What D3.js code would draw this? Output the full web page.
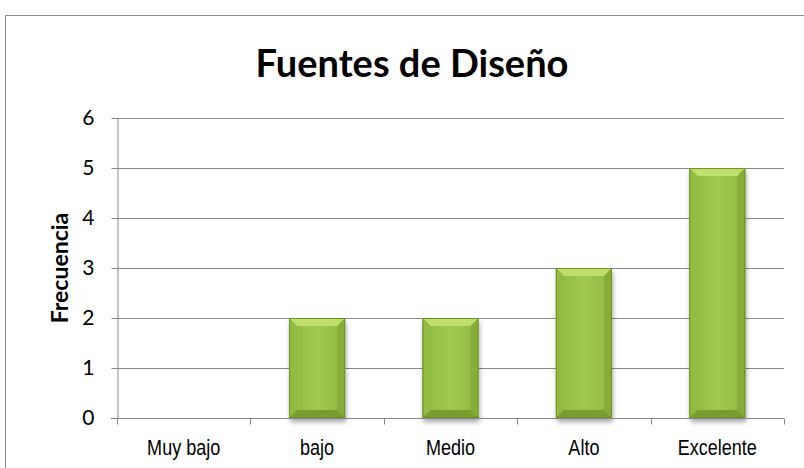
<!DOCTYPE html>
<html><head><meta charset="utf-8">
<script src="https://cdn.jsdelivr.net/npm/d3@7"></script>
<style>body{margin:0;background:#fff}svg{display:block}</style>
</head><body>
<script>
const categories = ["Muy bajo", "bajo", "Medio", "Alto", "Excelente"];
const values = [0, 2, 2, 3, 5];
const yTicks = [0, 1, 2, 3, 4, 5, 6];
const title = "Fuentes de Diseño";
const yTitle = "Frecuencia";

(function() {
const W = 804, H = 468;
const svg = d3.select("body").append("svg").attr("width", W).attr("height", H);
const defs = svg.append("defs");

svg.append("rect").attr("x", 5.5).attr("y", 15.5).attr("width", W).attr("height", H)
  .attr("fill", "#fff").attr("stroke", "#8c8c8c").attr("stroke-width", 1);

const pL = 117, pR = 784, pT = 118, pB = 418;
const x = d3.scaleBand().domain(categories).range([pL, pR]).paddingInner(0.58).paddingOuter(0.29);
const xb = d3.scaleBand().domain(categories).range([pL, pR]);
const y = d3.scaleLinear().domain([0, 6]).range([pB, pT]);

svg.append("g").selectAll("line").data(yTicks.filter(d => d > 0)).join("line")
  .attr("x1", pL).attr("x2", pR).attr("y1", d => Math.round(y(d)) + 0.5).attr("y2", d => Math.round(y(d)) + 0.5)
  .attr("stroke", "#878787").attr("stroke-width", 1);

const g1 = defs.append("linearGradient").attr("id", "body").attr("x1", 0).attr("x2", 1).attr("y1", 0).attr("y2", 0);
g1.append("stop").attr("offset", "0").attr("stop-color", "#8fb83f");
g1.append("stop").attr("offset", "0.5").attr("stop-color", "#a0cb50");
g1.append("stop").attr("offset", "1").attr("stop-color", "#8fb83f");
const blur = defs.append("filter").attr("id", "sh").attr("x", "-20%").attr("y", "-20%").attr("width", "140%").attr("height", "140%");
blur.append("feGaussianBlur").attr("stdDeviation", 2.5);

const bars = svg.append("g").selectAll("g").data(categories.map((c, i) => ({c, v: values[i]})).filter(d => d.v > 0)).join("g");
const bev = 8;
bars.each(function(d) {
  const g = d3.select(this);
  const x0 = x(d.c), w = x.bandwidth(), y0 = y(d.v), y1 = y(0), h = y1 - y0;
  g.append("rect").attr("x", x0 + 1).attr("y", y0 + 4).attr("width", w).attr("height", h)
    .attr("fill", "#000").attr("opacity", 0.35).attr("filter", "url(#sh)");
  g.append("rect").attr("x", x0).attr("y", y0).attr("width", w).attr("height", h).attr("fill", "url(#body)");
  const pts = (a) => a.map(p => p.join(",")).join(" ");
  g.append("polygon").attr("points", pts([[x0, y0], [x0 + w, y0], [x0 + w - bev, y0 + bev], [x0 + bev, y0 + bev]])).attr("fill", "#bedf6c");
  g.append("polygon").attr("points", pts([[x0, y0], [x0 + bev, y0 + bev], [x0 + bev, y1 - bev], [x0, y1]])).attr("fill", "#92bb42");
  g.append("polygon").attr("points", pts([[x0 + w, y0], [x0 + w - bev, y0 + bev], [x0 + w - bev, y1 - bev], [x0 + w, y1]])).attr("fill", "#86ad38");
  g.append("polygon").attr("points", pts([[x0, y1], [x0 + bev, y1 - bev], [x0 + w - bev, y1 - bev], [x0 + w, y1]])).attr("fill", "#789e2f");
  g.append("rect").attr("x", x0 + 0.5).attr("y", y0 + 0.5).attr("width", w - 1).attr("height", h - 1)
    .attr("fill", "none").attr("stroke", "#6f9229").attr("stroke-width", 1);
});

const yAxis = svg.append("g").attr("transform", `translate(${pL + 0.5},0)`)
  .call(d3.axisLeft(y).tickValues(yTicks).tickFormat(d3.format("d")).tickSize(6).tickSizeOuter(0).tickPadding(17));
yAxis.select(".domain").attr("stroke", "#878787");
yAxis.selectAll(".tick line").attr("stroke", "#878787");
yAxis.selectAll("text").attr("font-family", "Lato, 'Open Sans', sans-serif").attr("font-size", 21).attr("fill", "#000");

const xAxis = svg.append("g").attr("transform", `translate(0,${pB + 0.5})`);
xAxis.append("line").attr("x1", pL - 6).attr("x2", pR).attr("stroke", "#878787");
xAxis.selectAll("line.t").data(categories.concat(["_end"])).join("line").attr("class", "t")
  .attr("x1", (d, i) => Math.round(i < categories.length ? xb(d) : pR) + 0.5)
  .attr("x2", (d, i) => Math.round(i < categories.length ? xb(d) : pR) + 0.5)
  .attr("y1", 0).attr("y2", 6).attr("stroke", "#878787");
xAxis.selectAll("text").data(categories).join("text")
  .attr("transform", d => `translate(${xb(d) + xb.bandwidth() / 2},36.5) scale(0.82,1)`)
  .attr("text-anchor", "middle").attr("font-family", "'Liberation Sans', Arial, sans-serif")
  .attr("font-size", 22).attr("fill", "#000").text(d => d);

svg.append("text").attr("x", 412).attr("y", 77).attr("text-anchor", "middle")
  .attr("font-family", "Lato, 'Open Sans', sans-serif").attr("font-weight", "bold")
  .attr("font-size", 38).attr("fill", "#000").text(title);

svg.append("text").attr("transform", `translate(68,268) rotate(-90)`).attr("text-anchor", "middle")
  .attr("font-family", "Lato, 'Open Sans', sans-serif").attr("font-weight", "bold")
  .attr("font-size", 23).attr("fill", "#000").text(yTitle);
})();
</script>
</body></html>
